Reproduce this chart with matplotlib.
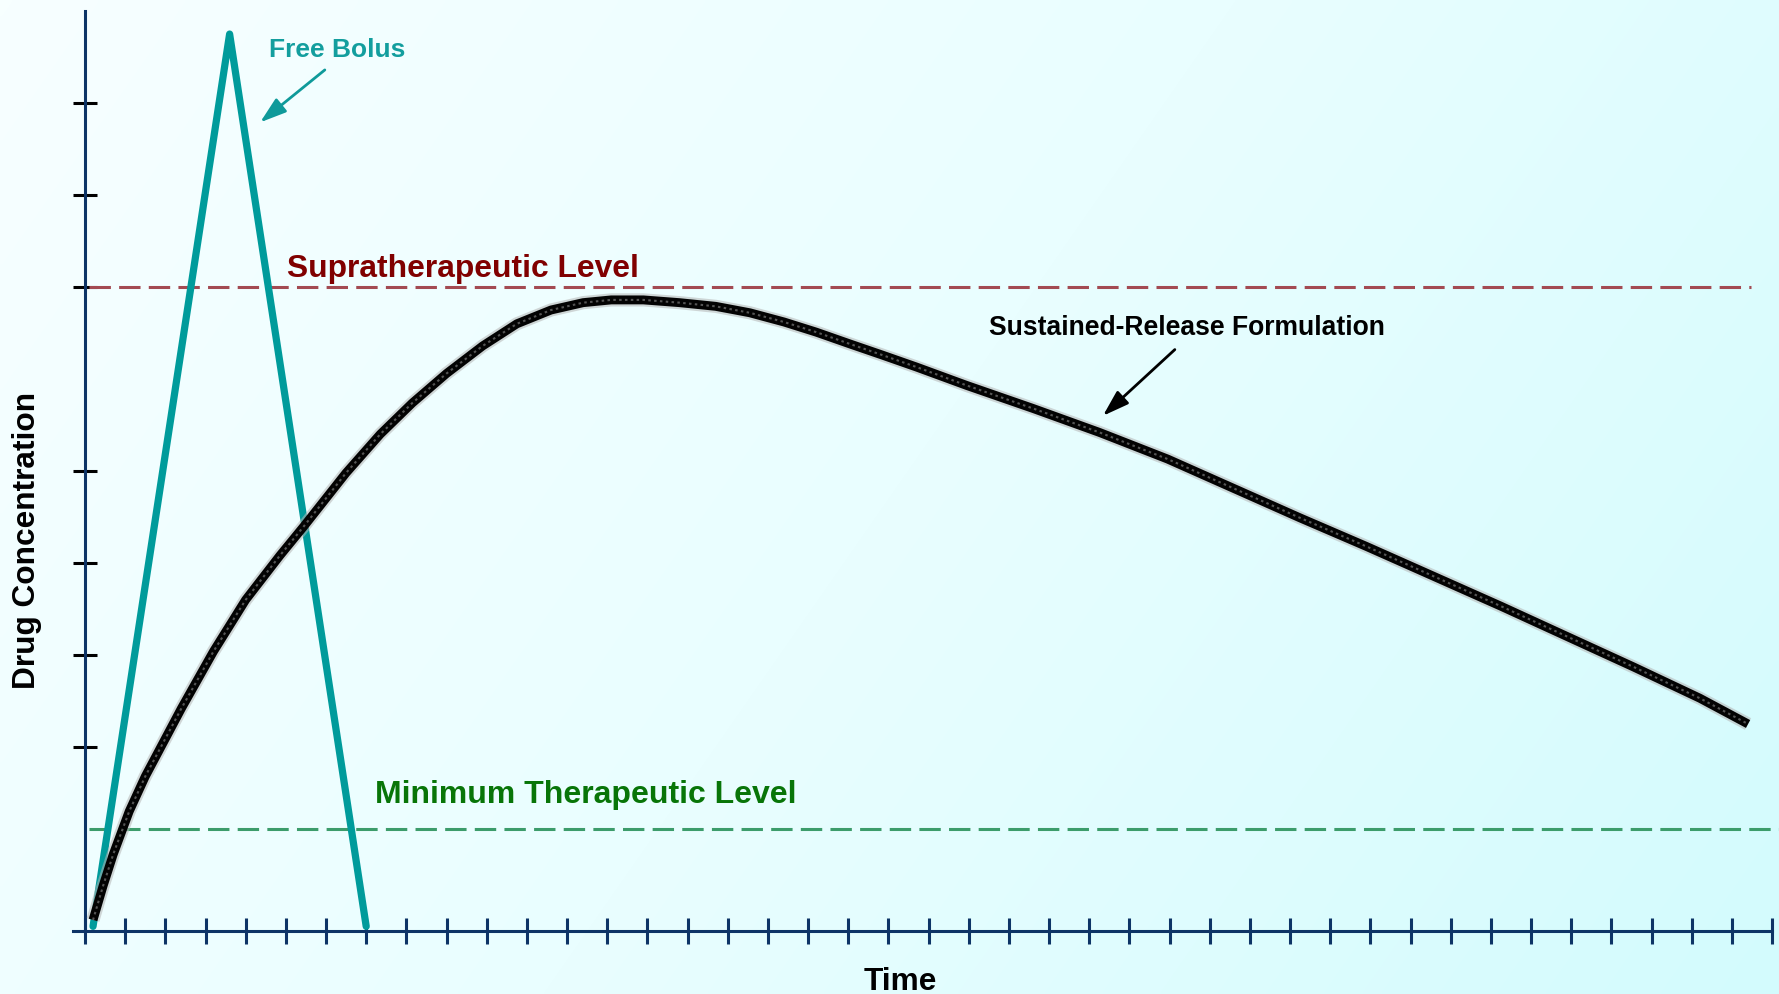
import numpy as np
import matplotlib
matplotlib.use("Agg")
import matplotlib.pyplot as plt
from matplotlib.patches import FancyArrowPatch
from matplotlib.colors import LinearSegmentedColormap

plt.rcParams['font.family'] = ['Liberation Sans', 'DejaVu Sans']

# ---- data (time in tick units, concentration in tick units) ----
bolus_time = [0.2, 3.6, 7.0]
bolus_conc = [0.05, 9.75, 0.05]

sr_time = [0.2, 0.45, 0.7, 1.1, 1.5, 2.4, 3.2, 4.0, 4.85, 5.45, 6.5, 7.35,
           8.15, 9.0, 9.9, 10.75, 11.6, 12.4, 13.1, 13.9, 14.8, 15.7, 16.55,
           17.4, 18.2, 19.05, 19.85, 20.7, 21.95, 23.6, 25.25, 26.95, 28.6,
           30.25, 31.9, 33.55, 35.25, 36.9, 38.55, 40.2, 41.4]
sr_conc = [0.12, 0.49, 0.83, 1.30, 1.68, 2.42, 3.04, 3.60, 4.08, 4.40, 4.98,
           5.40, 5.74, 6.06, 6.36, 6.60, 6.75, 6.83, 6.86, 6.86, 6.83, 6.79,
           6.72, 6.62, 6.51, 6.38, 6.26, 6.13, 5.93, 5.68, 5.42, 5.13, 4.81,
           4.49, 4.18, 3.86, 3.53, 3.20, 2.87, 2.53, 2.25]

supra_level = 7.0
min_level = 1.11
x_ticks = list(range(43))
y_ticks = [2, 3, 4, 5, 7, 8, 9]

# ---- figure ----
W, H, DPI = 1779, 994, 100
fig = plt.figure(figsize=(W / DPI, H / DPI), dpi=DPI)
ax = fig.add_axes([0, 0, 1, 1])
xmin, xmax = -2.116, 42.17
ymin, ymax = -0.685, 10.12
ax.set_xlim(xmin, xmax)
ax.set_ylim(ymin, ymax)

# soft diagonal background wash
gx, gy = np.meshgrid(np.linspace(0, 1, 400), np.linspace(0, 1, 250))
t = 0.72 * gx + 0.28 * gy
cmap = LinearSegmentedColormap.from_list("wash", ["#f7ffff", "#e9feff", "#d3fbfd"])
ax.imshow(t, extent=(xmin, xmax, ymin, ymax), origin="upper", cmap=cmap,
          aspect="auto", zorder=0, interpolation="bilinear")

navy = "#0d3466"
for side in ("top", "right"):
    ax.spines[side].set_visible(False)
ax.spines["left"].set_position(("data", 0))
ax.spines["bottom"].set_position(("data", 0))
ax.spines["left"].set_bounds(0, 10)
ax.spines["bottom"].set_bounds(-0.3, 42)
for side in ("left", "bottom"):
    ax.spines[side].set_color(navy)
    ax.spines[side].set_linewidth(2.2)
    ax.spines[side].set_zorder(3)

ax.set_xticks(x_ticks)
ax.set_yticks(y_ticks)
ax.tick_params(axis="x", direction="inout", length=18.7, width=2.2, color=navy,
               labelbottom=False)
ax.tick_params(axis="y", direction="inout", length=17.3, width=2.2, color="black",
               labelleft=False)

# reference levels
ax.plot([0.1, 41.47], [supra_level, supra_level], color="#a34a52", lw=2.2,
        dashes=(7, 2.7), zorder=2)
ax.plot([0.1, xmax], [min_level, min_level], color="#3c9c6b", lw=2.2,
        dashes=(7, 2.7), zorder=2)

# free bolus
ax.plot(bolus_time, bolus_conc, color="#009b9b", lw=5.2, solid_capstyle="round",
        solid_joinstyle="round", zorder=4)

# sustained-release curve with a grainy print look
ax.plot(sr_time, sr_conc, color="#b5b5b5", lw=9.5, alpha=0.55,
        solid_capstyle="butt", solid_joinstyle="round", zorder=5)
ax.plot(sr_time, sr_conc, color="#030303", lw=6.4, solid_capstyle="butt",
        solid_joinstyle="round", zorder=6)
ax.plot(sr_time, sr_conc, color="#555555", lw=1.5, dashes=(1.2, 1.6),
        dash_joinstyle="round", zorder=7)

# annotations
arrow_style = "-|>,head_length=0.8,head_width=0.26"
ax.text(4.58, 9.50, "Free Bolus", color="#139e9e", fontsize=19, fontweight="bold",
        ha="left", va="baseline", zorder=8)
ax.add_patch(FancyArrowPatch((5.97, 9.36), (4.36, 8.79), arrowstyle=arrow_style,
                             mutation_scale=20, color="#0f9a9a", lw=2.0,
                             shrinkA=0, shrinkB=0, zorder=8))

ax.text(5.03, 7.11, "Supratherapeutic Level", color="#800000", fontsize=22.9,
        fontweight="bold", ha="left", va="baseline", zorder=8)
ax.text(7.22, 1.39, "Minimum Therapeutic Level", color="#087508", fontsize=23,
        fontweight="bold", ha="left", va="baseline", zorder=8)

ax.text(22.50, 6.48, "Sustained-Release Formulation", color="black", fontsize=19.1,
        fontweight="bold", ha="left", va="baseline", zorder=8)
ax.add_patch(FancyArrowPatch((27.13, 6.32), (25.34, 5.60), arrowstyle=arrow_style,
                             mutation_scale=20, color="black", lw=2.0,
                             shrinkA=0, shrinkB=0, zorder=8))

ax.text(20.29, -0.641, "Time", color="black", fontsize=22.8, fontweight="bold",
        ha="center", va="baseline", zorder=8)
ax.text(-1.45, 4.25, "Drug Concentration", color="black", fontsize=22.8,
        fontweight="bold", rotation=90, ha="center", va="center", zorder=8)

fig.savefig("out.png", dpi=DPI)
